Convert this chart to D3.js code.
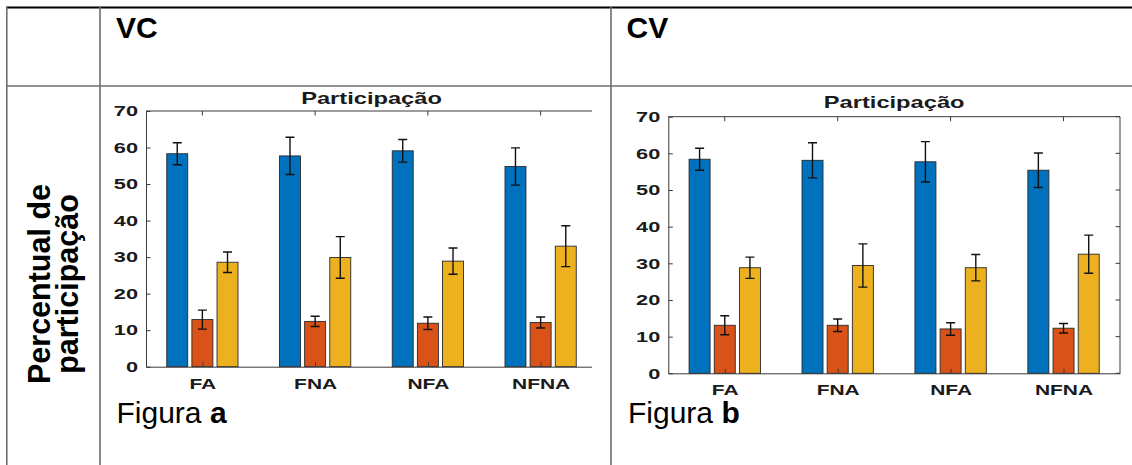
<!DOCTYPE html>
<html>
<head>
<meta charset="utf-8">
<script src="https://cdn.jsdelivr.net/npm/d3@7"></script>
<style>
  body { margin: 0; background: #fff; }
  svg { display: block; font-family: "Liberation Sans", Arial, sans-serif; }
</style>
</head>
<body>
<svg id="chart" width="1132" height="465"></svg>
<script>
// Categories and series (blue, red, yellow) for each condition
const categories = ["FA", "FNA", "NFA", "NFNA"];
const seriesColors = ["#0072BD", "#D95319", "#EDB120"];
const yTicks = [0, 10, 20, 30, 40, 50, 60, 70];

// VC condition: means and error half-widths per series
const vcSeries1 = [58.3, 57.7, 59.1, 54.8];
const vcSeries2 = [12.9, 12.4, 11.9, 12.1];
const vcSeries3 = [28.6, 29.9, 28.9, 33.0];
const vcErr1 = [3.0, 5.1, 3.1, 5.1];
const vcErr2 = [2.6, 1.4, 1.7, 1.5];
const vcErr3 = [2.8, 5.7, 3.6, 5.6];

// CV condition
const cvSeries1 = [58.4, 58.1, 57.7, 55.4];
const cvSeries2 = [13.1, 13.1, 12.1, 12.3];
const cvSeries3 = [28.8, 29.4, 28.8, 32.5];
const cvErr1 = [3.0, 4.8, 5.5, 4.7];
const cvErr2 = [2.6, 1.7, 1.7, 1.3];
const cvErr3 = [2.9, 5.9, 3.6, 5.2];

const svg = d3.select("#chart");
const AXIS = "#3a3a3a";
const TXT = "#1a1a1a";

// widen glyphs horizontally around each text's own anchor point
function stretch(sel, k) {
  sel.each(function () {
    const t = d3.select(this);
    const x = +t.attr("x") || 0, y = +t.attr("y") || 0;
    t.attr("x", 0).attr("y", 0).attr("transform", `translate(${x},${y}) scale(${k},1)`);
  });
}

// ---- table grid ----
const grid = svg.append("g");
grid.append("line").attr("x1", 6).attr("x2", 1132).attr("y1", 7.5).attr("y2", 7.5)
  .attr("stroke", "#000").attr("stroke-width", 2.2);
grid.append("line").attr("x1", 6).attr("x2", 1132).attr("y1", 86).attr("y2", 86)
  .attr("stroke", "#6e6e6e").attr("stroke-width", 1.6);
[6.8, 100, 611].forEach(x => {
  grid.append("line").attr("x1", x).attr("x2", x).attr("y1", 7).attr("y2", 465)
    .attr("stroke", "#6e6e6e").attr("stroke-width", 1.6);
});

// column headers
svg.append("text").attr("x", 116).attr("y", 37.5).attr("font-size", 30).attr("font-weight", "bold")
  .attr("fill", "#000").text("VC");
svg.append("text").attr("x", 626.5).attr("y", 37.5).attr("font-size", 30).attr("font-weight", "bold")
  .attr("fill", "#000").text("CV");

// row label (rotated, two lines)
const rowLabel = svg.append("g").attr("transform", "translate(0,284) rotate(-90)");
rowLabel.append("text").attr("x", 0).attr("y", 50).attr("text-anchor", "middle")
  .attr("font-size", 30.5).attr("font-weight", "bold").attr("fill", "#000").text("Percentual de");
rowLabel.append("text").attr("x", 0).attr("y", 78).attr("text-anchor", "middle")
  .attr("font-size", 30.5).attr("font-weight", "bold").attr("fill", "#000").text("participação");

// captions
function caption(x, letter) {
  const t = svg.append("text").attr("x", x).attr("y", 423).attr("font-size", 30).attr("fill", "#000");
  t.append("tspan").text("Figura ");
  t.append("tspan").attr("font-weight", "bold").text(letter);
}
caption(116.5, "a");
caption(628, "b");

// ---- bar panel ----
function panel(cfg) {
  const g = svg.append("g");
  const clipId = "clip-" + cfg.id;
  g.append("clipPath").attr("id", clipId).append("rect")
    .attr("x", cfg.left - 60).attr("y", cfg.top - 40)
    .attr("width", cfg.clipRight - cfg.left + 60).attr("height", cfg.bottom - cfg.top + 80);
  const p = g.append("g").attr("clip-path", `url(#${clipId})`);

  const x = d3.scaleLinear().domain([0.5, categories.length + 0.5]).range([cfg.left, cfg.right]);
  const y = d3.scaleLinear().domain([0, 70]).range([cfg.bottom, cfg.top]);
  const offset = 0.223, bw = 0.186;

  // bars and error bars
  cfg.means.forEach((vals, s) => {
    const errs = cfg.errs[s];
    const cx = i => x(i + 1 + (s - 1) * offset);
    p.append("g").selectAll("rect").data(vals).join("rect")
      .attr("x", (d, i) => cx(i) - (x(bw) - x(0)) / 2)
      .attr("width", x(bw) - x(0))
      .attr("y", d => y(d))
      .attr("height", d => y(0) - y(d))
      .attr("fill", seriesColors[s])
      .attr("stroke", "#2a2a2a").attr("stroke-width", 0.9);
    const eb = p.append("g").attr("stroke", "#111").attr("stroke-width", 1.4).attr("fill", "none");
    vals.forEach((d, i) => {
      const c = cx(i), hi = y(d + errs[i]), lo = y(d - errs[i]);
      eb.append("line").attr("x1", c).attr("x2", c).attr("y1", hi).attr("y2", lo);
      eb.append("line").attr("x1", c - 4.5).attr("x2", c + 4.5).attr("y1", hi).attr("y2", hi);
      eb.append("line").attr("x1", c - 4.5).attr("x2", c + 4.5).attr("y1", lo).attr("y2", lo);
    });
  });

  // box: top and right edges with inward ticks
  const box = p.append("g").attr("stroke", AXIS).attr("stroke-width", 1).attr("fill", "none");
  box.append("line").attr("x1", cfg.left).attr("x2", cfg.right).attr("y1", cfg.top).attr("y2", cfg.top);
  box.append("line").attr("x1", cfg.right).attr("x2", cfg.right).attr("y1", cfg.top).attr("y2", cfg.bottom);
  categories.forEach((c, i) => {
    box.append("line").attr("x1", x(i + 1)).attr("x2", x(i + 1)).attr("y1", cfg.top).attr("y2", cfg.top + 4.5);
  });
  yTicks.forEach(t => {
    box.append("line").attr("x1", cfg.right).attr("x2", cfg.right - 4.5).attr("y1", y(t)).attr("y2", y(t));
  });

  // left axis
  const ya = p.append("g").attr("transform", `translate(${cfg.left},0)`)
    .call(d3.axisLeft(y).tickValues(yTicks).tickSize(-4.5).tickSizeOuter(0).tickPadding(8));
  ya.select(".domain").attr("stroke", AXIS);
  ya.selectAll(".tick line").attr("stroke", AXIS);
  ya.selectAll(".tick text").attr("font-size", 15).attr("font-weight", "bold").attr("fill", TXT)
    .attr("font-family", "Liberation Sans, Arial, sans-serif").call(stretch, 1.45);

  // bottom axis
  const xa = p.append("g").attr("transform", `translate(0,${cfg.bottom})`)
    .call(d3.axisBottom(x).tickValues(d3.range(1, categories.length + 1))
      .tickFormat(i => categories[i - 1]).tickSize(-4.5).tickSizeOuter(0).tickPadding(0));
  xa.select(".domain").attr("stroke", AXIS);
  xa.selectAll(".tick line").attr("stroke", AXIS);
  xa.selectAll(".tick text").attr("dy", null).attr("y", cfg.catBaseline - cfg.bottom)
    .attr("font-size", 15).attr("font-weight", "bold").attr("fill", TXT)
    .attr("font-family", "Liberation Sans, Arial, sans-serif").call(stretch, 1.4);

  // title
  p.append("text").attr("x", (cfg.left + cfg.right) / 2).attr("y", cfg.titleBaseline)
    .attr("text-anchor", "middle").attr("font-size", 16).attr("font-weight", "bold").attr("fill", TXT)
    .text("Participação").call(stretch, 1.48);
}

panel({
  id: "vc", left: 146, right: 597, clipRight: 592, top: 111, bottom: 366.7,
  titleBaseline: 103.5, catBaseline: 389,
  means: [vcSeries1, vcSeries2, vcSeries3], errs: [vcErr1, vcErr2, vcErr3]
});
panel({
  id: "cv", left: 668.3, right: 1120, clipRight: 1125, top: 116.7, bottom: 373.3,
  titleBaseline: 108.3, catBaseline: 395,
  means: [cvSeries1, cvSeries2, cvSeries3], errs: [cvErr1, cvErr2, cvErr3]
});
</script>
</body>
</html>
